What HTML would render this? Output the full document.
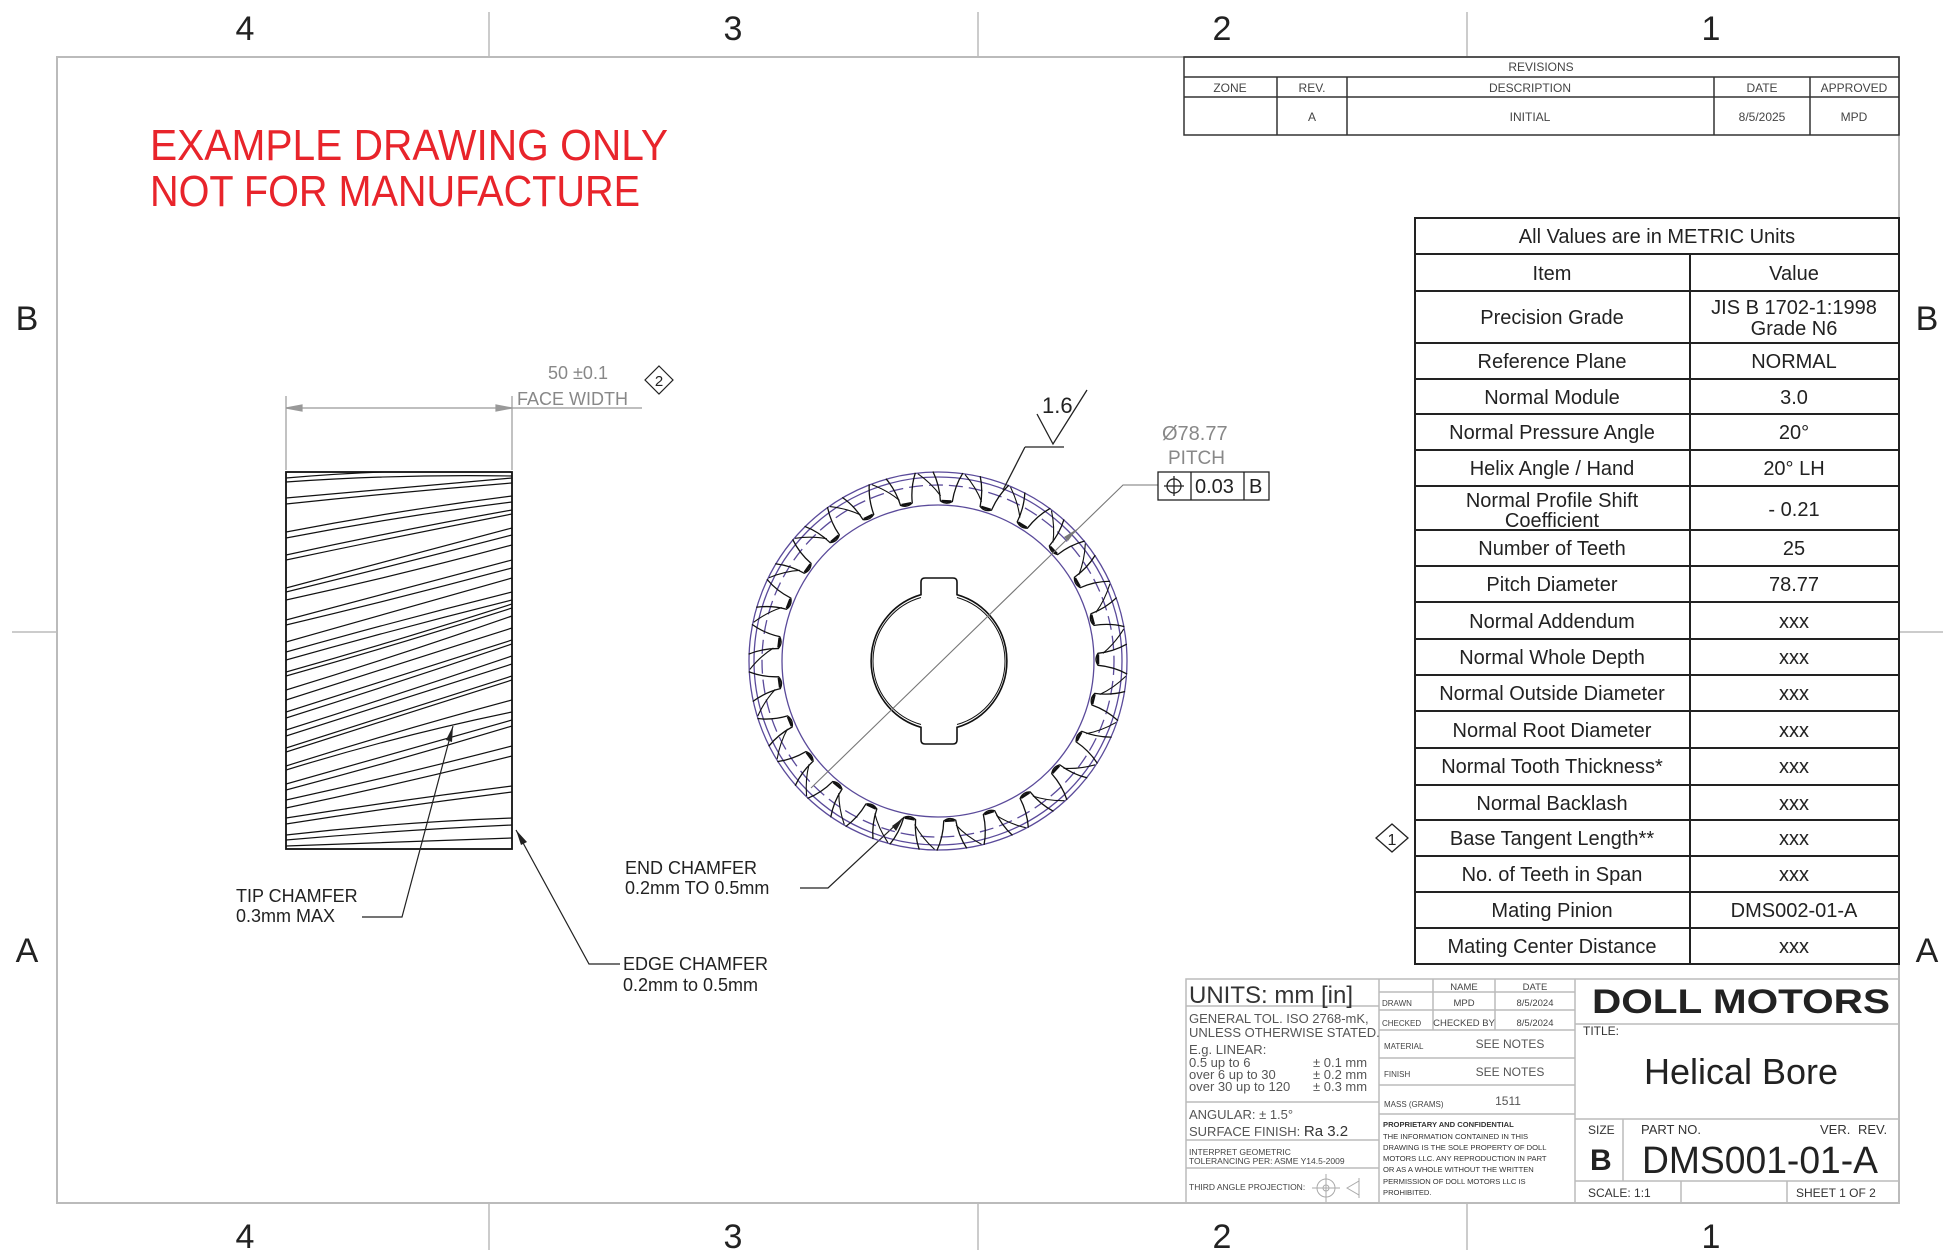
<!DOCTYPE html>
<html><head><meta charset="utf-8"><style>
html,body{margin:0;padding:0;background:#fff;}
svg{display:block;}
text{font-family:"Liberation Sans",sans-serif;}
</style></head><body>
<svg width="1946" height="1259" viewBox="0 0 1946 1259" xmlns="http://www.w3.org/2000/svg">
<defs>
<clipPath id="cr"><rect x="286" y="472" width="226" height="377"/></clipPath>
<g id="tooth">
<path d="M-15,-189 C-10,-180 -7,-170 -6,-160 Q0,-156 6,-160 C7,-170 10,-180 15,-189" fill="none" stroke="#111" stroke-width="1.3"/>
<path d="M-5,-160 L5,-160" stroke="#111" stroke-width="2.5"/>
<path d="M-6,-165 C-14,-175 -22,-181 -30,-186" fill="none" stroke="#111" stroke-width="1.1"/>
</g>
</defs>
<rect width="1946" height="1259" fill="#fff"/>
<rect x="57" y="57" width="1842" height="1146" fill="none" stroke="#bbb" stroke-width="2"/>
<g stroke="#bbb" stroke-width="1.5">
<line x1="489" y1="12" x2="489" y2="57"/><line x1="978" y1="12" x2="978" y2="57"/><line x1="1467" y1="12" x2="1467" y2="57"/>
<line x1="489" y1="1203" x2="489" y2="1250"/><line x1="978" y1="1203" x2="978" y2="1250"/><line x1="1467" y1="1203" x2="1467" y2="1250"/>
<line x1="12" y1="632" x2="57" y2="632"/><line x1="1899" y1="632" x2="1943" y2="632"/>
</g>
<g font-size="34" fill="#222" text-anchor="middle">
<text x="245" y="40">4</text><text x="733" y="40">3</text><text x="1222" y="40">2</text><text x="1711" y="40">1</text>
<text x="245" y="1248">4</text><text x="733" y="1248">3</text><text x="1222" y="1248">2</text><text x="1711" y="1248">1</text>
<text x="27" y="330">B</text><text x="1927" y="330">B</text><text x="27" y="962">A</text><text x="1927" y="962">A</text>
</g>
<g fill="#e8242b" font-size="44">
<text x="150" y="160" textLength="518" lengthAdjust="spacingAndGlyphs">EXAMPLE DRAWING ONLY</text>
<text x="150" y="206" textLength="490" lengthAdjust="spacingAndGlyphs">NOT FOR MANUFACTURE</text>
</g>
<g fill="none" stroke="#333" stroke-width="1.5">
<rect x="1184" y="57" width="715" height="78"/>
<line x1="1184" y1="77" x2="1899" y2="77"/><line x1="1184" y1="97" x2="1899" y2="97"/>
<line x1="1277" y1="77" x2="1277" y2="135"/><line x1="1347" y1="77" x2="1347" y2="135"/>
<line x1="1714" y1="77" x2="1714" y2="135"/><line x1="1810" y1="77" x2="1810" y2="135"/>
</g>
<g font-size="12" fill="#444" text-anchor="middle">
<text x="1541" y="71">REVISIONS</text>
<text x="1230" y="92">ZONE</text><text x="1312" y="92">REV.</text><text x="1530" y="92">DESCRIPTION</text><text x="1762" y="92">DATE</text><text x="1854" y="92">APPROVED</text>
<text x="1312" y="121">A</text><text x="1530" y="121">INITIAL</text><text x="1762" y="121">8/5/2025</text><text x="1854" y="121">MPD</text>
</g>
<g fill="none" stroke="#222" stroke-width="2">
<rect x="1415" y="218" width="484" height="746"/>
<line x1="1690" y1="254" x2="1690" y2="964"/>
<path d="M1415 254H1899M1415 291H1899M1415 343H1899M1415 379H1899M1415 414H1899M1415 450H1899M1415 486H1899M1415 530H1899M1415 566H1899M1415 602H1899M1415 639H1899M1415 675H1899M1415 711H1899M1415 748H1899M1415 785H1899M1415 820H1899M1415 856H1899M1415 892H1899M1415 928H1899"/>
</g>
<g font-size="20" fill="#222" text-anchor="middle">
<text x="1657" y="243">All Values are in METRIC Units</text>
<text x="1552" y="280">Item</text><text x="1794" y="280">Value</text>
<text x="1552" y="324">Precision Grade</text><text x="1794" y="314">JIS B 1702-1:1998</text><text x="1794" y="335">Grade N6</text>
<text x="1552" y="368">Reference Plane</text><text x="1794" y="368">NORMAL</text>
<text x="1552" y="404">Normal Module</text><text x="1794" y="404">3.0</text>
<text x="1552" y="439">Normal Pressure Angle</text><text x="1794" y="439">20°</text>
<text x="1552" y="475">Helix Angle / Hand</text><text x="1794" y="475">20° LH</text>
<text x="1552" y="507">Normal Profile Shift</text><text x="1552" y="527">Coefficient</text><text x="1794" y="516">- 0.21</text>
<text x="1552" y="555">Number of Teeth</text><text x="1794" y="555">25</text>
<text x="1552" y="591">Pitch Diameter</text><text x="1794" y="591">78.77</text>
<text x="1552" y="628">Normal Addendum</text><text x="1794" y="628">xxx</text>
<text x="1552" y="664">Normal Whole Depth</text><text x="1794" y="664">xxx</text>
<text x="1552" y="700">Normal Outside Diameter</text><text x="1794" y="700">xxx</text>
<text x="1552" y="737">Normal Root Diameter</text><text x="1794" y="737">xxx</text>
<text x="1552" y="773">Normal Tooth Thickness*</text><text x="1794" y="773">xxx</text>
<text x="1552" y="810">Normal Backlash</text><text x="1794" y="810">xxx</text>
<text x="1552" y="845">Base Tangent Length**</text><text x="1794" y="845">xxx</text>
<text x="1552" y="881">No. of Teeth in Span</text><text x="1794" y="881">xxx</text>
<text x="1552" y="917">Mating Pinion</text><text x="1794" y="917">DMS002-01-A</text>
<text x="1552" y="953">Mating Center Distance</text><text x="1794" y="953">xxx</text>
</g>
<path d="M1392 824 L1408 838 L1392 852 L1376 838Z" fill="none" stroke="#222" stroke-width="1.3"/>
<text x="1392" y="845" font-size="16" text-anchor="middle" fill="#222">1</text>
<g fill="none" stroke="#bbb" stroke-width="1.5">
<rect x="1186" y="979" width="713" height="224"/>
<line x1="1379" y1="979" x2="1379" y2="1203"/><line x1="1575" y1="979" x2="1575" y2="1203"/>
<path d="M1186 1006H1379M1186 1102H1379M1186 1140H1379M1186 1168H1379"/>
<path d="M1379 992H1575M1379 1010H1575M1379 1030H1575M1379 1058H1575M1379 1085H1575M1379 1114H1575"/>
<path d="M1433 979V1030M1495 979V1030"/>
<path d="M1575 1024H1899M1575 1119H1899M1575 1181H1899M1623 1119V1181M1681 1181V1203M1787 1181V1203"/>
</g>
<g fill="#333">
<text x="1189" y="1003" font-size="24">UNITS: mm [in]</text>
<g font-size="13" fill="#555"><text x="1189" y="1023">GENERAL TOL. ISO 2768-mK,</text><text x="1189" y="1037">UNLESS OTHERWISE STATED.</text>
<text x="1189" y="1054">E.g. LINEAR:</text><text x="1189" y="1067">0.5 up to 6</text><text x="1189" y="1079">over 6 up to 30</text><text x="1189" y="1091">over 30 up to 120</text>
<text x="1313" y="1067">± 0.1 mm</text><text x="1313" y="1079">± 0.2 mm</text><text x="1313" y="1091">± 0.3 mm</text>
<text x="1189" y="1119">ANGULAR: ± 1.5°</text><text x="1189" y="1136">SURFACE FINISH: <tspan font-size="15" fill="#333">Ra 3.2</tspan></text></g>
<g font-size="8.5" fill="#444"><text x="1189" y="1155">INTERPRET GEOMETRIC</text><text x="1189" y="1164">TOLERANCING PER: ASME Y14.5-2009</text>
<text x="1189" y="1190">THIRD ANGLE PROJECTION:</text></g>
<g fill="none" stroke="#aaa"><circle cx="1326" cy="1188" r="9"/><circle cx="1326" cy="1188" r="3"/><path d="M1312 1188H1340M1326 1174V1202M1347 1188L1359 1181V1195Z M1359 1178V1198"/></g>
<g font-size="9.5" fill="#444" text-anchor="middle"><text x="1464" y="990">NAME</text><text x="1535" y="990">DATE</text>
<text x="1464" y="1006">MPD</text><text x="1535" y="1006">8/5/2024</text><text x="1464" y="1026">CHECKED BY</text><text x="1535" y="1026">8/5/2024</text></g>
<g font-size="8" fill="#444"><text x="1382" y="1006">DRAWN</text><text x="1382" y="1026">CHECKED</text><text x="1384" y="1049">MATERIAL</text><text x="1384" y="1077">FINISH</text><text x="1384" y="1107">MASS (GRAMS)</text></g>
<g font-size="12" fill="#555" text-anchor="middle"><text x="1510" y="1048">SEE NOTES</text><text x="1510" y="1076">SEE NOTES</text><text x="1508" y="1105">1511</text></g>
<g font-size="7.6" fill="#333"><text x="1383" y="1127" font-weight="bold">PROPRIETARY AND CONFIDENTIAL</text>
<text x="1383" y="1139">THE INFORMATION CONTAINED IN THIS</text><text x="1383" y="1150">DRAWING IS THE SOLE PROPERTY OF DOLL</text><text x="1383" y="1161">MOTORS LLC. ANY REPRODUCTION IN PART</text><text x="1383" y="1172">OR AS A WHOLE WITHOUT THE WRITTEN</text><text x="1383" y="1184">PERMISSION OF DOLL MOTORS LLC IS</text><text x="1383" y="1195">PROHIBITED.</text></g>
<text x="1592" y="1013" font-size="34" font-weight="bold" fill="#222" textLength="298" lengthAdjust="spacingAndGlyphs">DOLL MOTORS</text>
<text x="1583" y="1035" font-size="12" fill="#333">TITLE:</text>
<text x="1741" y="1084" font-size="36" fill="#222" text-anchor="middle">Helical Bore</text>
<text x="1588" y="1134" font-size="12" fill="#333">SIZE</text><text x="1590" y="1170" font-size="30" font-weight="bold" fill="#222">B</text>
<text x="1641" y="1134" font-size="13" fill="#333">PART NO.</text><text x="1820" y="1134" font-size="13" fill="#333">VER.</text><text x="1858" y="1134" font-size="13" fill="#333">REV.</text>
<text x="1642" y="1173" font-size="38" fill="#222" textLength="236" lengthAdjust="spacingAndGlyphs">DMS001-01-A</text>
<text x="1588" y="1197" font-size="12" fill="#333">SCALE: 1:1</text><text x="1796" y="1197" font-size="12" fill="#333">SHEET 1 OF 2</text>
</g>
<g stroke="#999" stroke-width="1.2" fill="#999">
<line x1="286" y1="396" x2="286" y2="470"/><line x1="512" y1="396" x2="512" y2="470"/>
<line x1="286" y1="408" x2="642" y2="408"/>
<path d="M286 408L302 405V411Z"/><path d="M512 408L496 405V411Z"/>
</g>
<text x="578" y="379" font-size="18" fill="#888" text-anchor="middle">50 ±0.1</text>
<text x="517" y="405" font-size="18" fill="#888">FACE WIDTH</text>
<path d="M659 366 L673 380 L659 394 L645 380Z" fill="none" stroke="#222" stroke-width="1.2"/>
<text x="659" y="386" font-size="15" text-anchor="middle" fill="#222">2</text>
<g clip-path="url(#cr)" fill="none" stroke="#111" stroke-width="1.2">
<path d="M286 478Q400 468 512 472M286 482Q400 474 512 476M286 498Q400 488 512 478M286 504Q400 492 512 483M286 532Q400 510 512 496M286 538Q400 516 512 502M286 555Q400 530 512 510M286 560Q400 536 512 514M286 588Q400 558 512 528M286 592Q400 564 512 535M286 600Q400 575 512 545M286 620Q400 590 512 560M286 625Q400 598 512 568M286 642Q400 610 512 578M286 652Q400 620 512 592M286 660Q400 628 512 600M286 672Q400 640 512 604M286 676Q400 644 512 608M286 690Q400 655 512 616M286 700Q400 664 512 628M286 712Q400 676 512 640M286 718Q400 682 512 644M286 730Q400 694 512 656M286 736Q400 700 512 664M286 748Q400 712 512 676M286 752Q400 716 512 680M286 766Q400 730 512 700M286 770Q400 735 512 712M286 784Q400 752 512 720M286 790Q400 760 512 726M286 800Q400 775 512 746M286 808Q400 784 512 756M286 818Q400 800 512 786M286 824Q400 806 512 792M286 835Q400 822 512 818M286 840Q400 830 512 825M286 846Q400 842 512 838"/>
</g>
<rect x="286" y="472" width="226" height="377" fill="none" stroke="#111" stroke-width="1.8"/>
<g stroke="#222" stroke-width="1.2" fill="none">
<path d="M362 917H402L453 726"/><path d="M620 964H589L516 830"/><path d="M800 888H828L903 818"/>
</g>
<g fill="#222"><path d="M453 726L452 742L446 740Z"/><path d="M516 830L527 842L521 845Z"/><path d="M903 818L896 831L892 826Z"/></g>
<g font-size="18" fill="#222">
<text x="236" y="902">TIP CHAMFER</text><text x="236" y="922">0.3mm MAX</text>
<text x="623" y="970">EDGE CHAMFER</text><text x="623" y="991">0.2mm to 0.5mm</text>
<text x="625" y="874">END CHAMFER</text><text x="625" y="894">0.2mm TO 0.5mm</text>
</g>
<g fill="none" stroke="#5a4a9a" stroke-width="1.3">
<circle cx="938" cy="661" r="189"/><circle cx="938" cy="661" r="184"/>
<circle cx="938" cy="661" r="176" stroke-dasharray="14 6"/><circle cx="938" cy="661" r="156"/>
</g>
<g transform="translate(938,661)">
<use href="#tooth" transform="rotate(3)"/><use href="#tooth" transform="rotate(17.4)"/><use href="#tooth" transform="rotate(31.8)"/><use href="#tooth" transform="rotate(46.2)"/><use href="#tooth" transform="rotate(60.6)"/><use href="#tooth" transform="rotate(75)"/><use href="#tooth" transform="rotate(89.4)"/><use href="#tooth" transform="rotate(103.8)"/><use href="#tooth" transform="rotate(118.2)"/><use href="#tooth" transform="rotate(132.6)"/><use href="#tooth" transform="rotate(147)"/><use href="#tooth" transform="rotate(161.4)"/><use href="#tooth" transform="rotate(175.8)"/><use href="#tooth" transform="rotate(190.2)"/><use href="#tooth" transform="rotate(204.6)"/><use href="#tooth" transform="rotate(219)"/><use href="#tooth" transform="rotate(233.4)"/><use href="#tooth" transform="rotate(247.8)"/><use href="#tooth" transform="rotate(262.2)"/><use href="#tooth" transform="rotate(276.6)"/><use href="#tooth" transform="rotate(291)"/><use href="#tooth" transform="rotate(305.4)"/><use href="#tooth" transform="rotate(319.8)"/><use href="#tooth" transform="rotate(334.2)"/><use href="#tooth" transform="rotate(348.6)"/>
</g>
<path d="M957 594.7 V582 Q957 578 953 578 H925 Q921 578 921 582 V594.7 A69 69 0 0 0 921 727.3 V740 Q921 744 925 744 H953 Q957 744 957 740 V727.3 A69 69 0 0 0 957 594.7 Z" fill="none" stroke="#111" stroke-width="1.6"/>
<path d="M921 597.5 A66 66 0 0 0 921 724.5 M957 724.5 A66 66 0 0 0 957 597.5" fill="none" stroke="#111" stroke-width="1"/>
<g stroke="#777" stroke-width="1.1" fill="none"><path d="M811 788L1123 485H1158"/></g>
<path d="M1077 529L1068 541L1064 537Z" fill="#777"/>
<text x="1162" y="440" font-size="20" fill="#888">Ø78.77</text>
<text x="1168" y="464" font-size="19" fill="#888">PITCH</text>
<g fill="none" stroke="#222" stroke-width="1.3"><rect x="1158" y="472" width="111" height="28"/><line x1="1191" y1="472" x2="1191" y2="500"/><line x1="1244" y1="472" x2="1244" y2="500"/>
<circle cx="1174" cy="486" r="7"/><path d="M1164 486H1184M1174 476V496"/></g>
<text x="1195" y="493" font-size="20" fill="#222">0.03</text><text x="1249" y="493" font-size="20" fill="#222">B</text>
<g stroke="#222" stroke-width="1.3" fill="none">
<path d="M1037 414L1053 444L1087 390"/><path d="M1025 447H1064"/><path d="M1025 447L1003 490"/>
</g>
<text x="1042" y="413" font-size="22" fill="#222">1.6</text>
</svg>
</body></html>
